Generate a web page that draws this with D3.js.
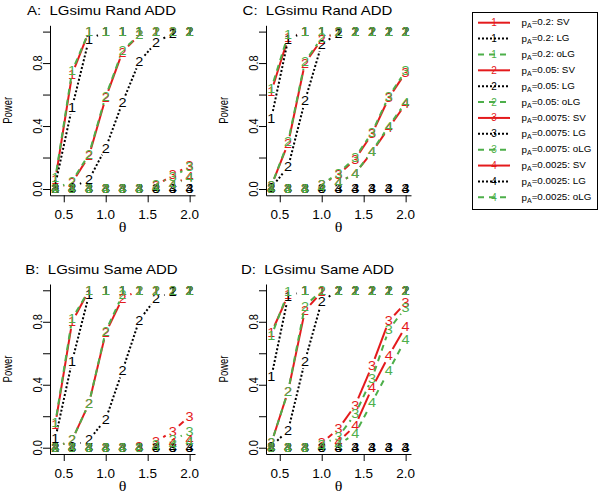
<!DOCTYPE html>
<html>
<head>
<meta charset="utf-8">
<script src="https://cdn.jsdelivr.net/npm/d3@7"></script>
<style>
  body { margin: 0; background: #fff; }
  svg { display: block; }
</style>
</head>
<body>
<div id="chart"></div>
<script>
// theta values on the x axis
const theta = [0.4, 0.6, 0.8, 1.0, 1.2, 1.4, 1.6, 1.8, 2.0];
const pAs = ["0.2", "0.05", "0.0075", "0.0025"];
const methods = ["SV", "LG", "oLG"];
const xTicks = [0.5, 1.0, 1.5, 2.0];
const yTicks = [0, 0.2, 0.4, 0.6, 0.8, 1.0];
const yLabels = [0, 0.4, 0.8];

// power, one row per pA (0.2, 0.05, 0.0075, 0.0025)
const randA_SV = [
  [0.06, 0.73, 1.00, 1, 1, 1, 1, 1, 1],
  [0.00, 0.04, 0.21, 0.58, 0.87, 0.98, 1, 1, 1],
  [0, 0, 0, 0, 0, 0, 0.02, 0.09, 0.15],
  [0, 0, 0, 0, 0, 0, 0.01, 0.03, 0.08]
];
const randA_LG = [
  [0.03, 0.52, 0.95, 1, 1, 1, 1, 1, 1],
  [0.00, 0.01, 0.06, 0.26, 0.55, 0.81, 0.93, 0.99, 1],
  [0, 0, 0, 0, 0, 0, 0, 0, 0],
  [0, 0, 0, 0, 0, 0, 0, 0, 0]
];
const randA_oLG = [
  [0.07, 0.75, 1.00, 1, 1, 1, 1, 1, 1],
  [0.00, 0.05, 0.22, 0.59, 0.88, 0.98, 1, 1, 1],
  [0, 0, 0, 0, 0, 0, 0.03, 0.08, 0.14],
  [0, 0, 0, 0, 0, 0, 0.01, 0.03, 0.07]
];

const randC_SV = [
  [0.62, 0.96, 1, 1, 1, 1, 1, 1, 1],
  [0.02, 0.29, 0.80, 0.95, 1, 1, 1, 1, 1],
  [0, 0, 0, 0.03, 0.09, 0.19, 0.35, 0.58, 0.74],
  [0, 0, 0, 0.01, 0.04, 0.10, 0.235, 0.39, 0.54]
];
const randC_LG = [
  [0.45, 0.95, 1, 1, 1, 1, 1, 1, 1],
  [0.01, 0.14, 0.56, 0.92, 0.99, 1, 1, 1, 1],
  [0, 0, 0, 0, 0, 0, 0, 0, 0],
  [0, 0, 0, 0, 0, 0, 0, 0, 0]
];
const randC_oLG = [
  [0.64, 0.98, 1, 1, 1, 1, 1, 1, 1],
  [0.02, 0.30, 0.81, 0.96, 1, 1, 1, 1, 1],
  [0, 0, 0, 0.03, 0.10, 0.20, 0.36, 0.59, 0.75],
  [0, 0, 0, 0.01, 0.04, 0.10, 0.24, 0.40, 0.55]
];

const sameB_SV = [
  [0.15, 0.80, 1, 1, 1, 1, 1, 1, 1],
  [0.00, 0.05, 0.28, 0.73, 0.95, 1, 1, 1, 1],
  [0, 0, 0, 0, 0, 0.01, 0.04, 0.105, 0.20],
  [0, 0, 0, 0, 0, 0, 0.01, 0.03, 0.05]
];
const sameB_LG = [
  [0.06, 0.55, 0.97, 1, 1, 1, 1, 1, 1],
  [0.00, 0.01, 0.05, 0.18, 0.49, 0.81, 0.95, 0.99, 1],
  [0, 0, 0, 0, 0, 0, 0, 0, 0],
  [0, 0, 0, 0, 0, 0, 0, 0, 0]
];
const sameB_oLG = [
  [0.16, 0.82, 1, 1, 1, 1, 1, 1, 1],
  [0.00, 0.05, 0.28, 0.74, 0.97, 1, 1, 1, 1],
  [0, 0, 0, 0, 0, 0, 0.02, 0.05, 0.10],
  [0, 0, 0, 0, 0, 0, 0.01, 0.02, 0.04]
];

const sameD_SV = [
  [0.73, 0.97, 1, 1, 1, 1, 1, 1, 1],
  [0.03, 0.36, 0.87, 0.99, 1, 1, 1, 1, 1],
  [0, 0, 0, 0.03, 0.12, 0.27, 0.52, 0.805, 0.92],
  [0, 0, 0, 0.01, 0.04, 0.14, 0.38, 0.585, 0.77]
];
const sameD_LG = [
  [0.45, 0.96, 1, 1, 1, 1, 1, 1, 1],
  [0.01, 0.11, 0.55, 0.93, 1, 1, 1, 1, 1],
  [0, 0, 0, 0, 0, 0, 0, 0, 0],
  [0, 0, 0, 0, 0, 0, 0, 0, 0]
];
const sameD_oLG = [
  [0.71, 0.99, 1, 1, 1, 1, 1, 1, 1],
  [0.03, 0.36, 0.90, 1, 1, 1, 1, 1, 1],
  [0, 0, 0, 0.02, 0.07, 0.215, 0.44, 0.75, 0.89],
  [0, 0, 0, 0.01, 0.02, 0.09, 0.29, 0.49, 0.69]
];

const panels = [
  { title: "A:\u00a0\u00a0LGsimu Rand ADD", left: 50, top: 25.3, data: [randA_SV, randA_LG, randA_oLG] },
  { title: "C:\u00a0\u00a0LGsimu Rand ADD", left: 266, top: 25.3, data: [randC_SV, randC_LG, randC_oLG] },
  { title: "B:\u00a0\u00a0LGsimu Same ADD", left: 50, top: 284, data: [sameB_SV, sameB_LG, sameB_oLG] },
  { title: "D:\u00a0\u00a0LGsimu Same ADD", left: 266, top: 284, data: [sameD_SV, sameD_LG, sameD_oLG] }
];

const W = 600, H = 495;
const PW = 145, PH = 170;
const SQ = 0.88;         // text looks a little squeezed vertically
const GEO_SQ = 0.8;      // same for the gaps of the broken lines
const GAP = 9;           // gap round each symbol, like R type = "b"
const FONT = "'Liberation Sans', Arial, Helvetica, sans-serif";

const styles = {
  SV:  { color: "#e41a1c", dash: null },
  LG:  { color: "#000000", dash: "2,2" },
  oLG: { color: "#4daf4a", dash: "6,5" }
};

const svg = d3.select("#chart").append("svg")
  .attr("width", W).attr("height", H)
  .style("font-family", FONT);

svg.append("rect").attr("width", W).attr("height", H).attr("fill", "#fff");

function label(g, x, y, s, size, opt) {
  opt = opt || {};
  const sq = opt.sq || SQ;
  const t = g.append("g")
    .attr("transform", "translate(" + x + "," + y + ") scale(1," + sq + ")" + (opt.rotate ? " rotate(" + opt.rotate + ")" : ""))
    .append("text")
    .attr("text-anchor", opt.anchor || "middle")
    .attr("dy", opt.dy || "0.35em")
    .attr("font-size", size)
    .attr("fill", opt.fill || "#000")
    .text(s);
  if (opt.family) t.attr("font-family", opt.family);
  return t;
}

panels.forEach(function(p) {
  const g = svg.append("g");
  const x = d3.scaleLinear().domain([0.336, 2.064]).range([p.left, p.left + PW]);
  const y = d3.scaleLinear().domain([-0.04, 1.04]).range([p.top + PH, p.top]);

  // L-shaped box with axes
  const xAxis = g.append("g")
    .attr("transform", "translate(0," + (p.top + PH) + ")")
    .call(d3.axisBottom(x).tickValues(xTicks).tickSize(7).tickSizeOuter(0).tickFormat(""));
  const yAxis = g.append("g")
    .attr("transform", "translate(" + p.left + ",0)")
    .call(d3.axisLeft(y).tickValues(yTicks).tickSize(7).tickSizeOuter(0).tickFormat(""));
  [xAxis, yAxis].forEach(function(a) {
    a.selectAll("path, line").attr("stroke", "#000").attr("stroke-width", 1);
  });

  xTicks.forEach(function(v) {
    label(g, x(v), p.top + PH + 19.5, d3.format(".1f")(v), 13.5);
  });
  yLabels.forEach(function(v) {
    label(g, p.left - 12.5, y(v), d3.format(".1f")(v), 13.5, { rotate: -90, sq: 0.82 });
  });

  label(g, p.left + PW / 2 - 21, p.top - 15, p.title, 15);
  label(g, p.left - 42, p.top + PH / 2, "Power", 12.5, { rotate: -90, sq: 0.76 });
  label(g, p.left + PW / 2, p.top + 202, "\u03b8", 16, { family: "'Liberation Serif', 'DejaVu Serif', serif" });

  const marks = g.append("g");
  pAs.forEach(function(pa, i) {
    methods.forEach(function(m, k) {
      const vals = p.data[k][i];
      const st = styles[m];
      const pts = theta.map(function(t, j) { return [x(t), y(vals[j])]; });
      for (let j = 1; j < pts.length; j++) {
        const a = pts[j - 1], b = pts[j];
        const dx = b[0] - a[0], dy = (b[1] - a[1]) / GEO_SQ;
        const f = GAP / Math.hypot(dx, dy);
        if (f >= 0.5) continue;
        marks.append("line")
          .attr("x1", a[0] + f * (b[0] - a[0]))
          .attr("y1", a[1] + f * (b[1] - a[1]))
          .attr("x2", b[0] + f * (a[0] - b[0]))
          .attr("y2", b[1] + f * (a[1] - b[1]))
          .attr("stroke", st.color)
          .attr("stroke-width", 2)
          .attr("stroke-dasharray", st.dash);
      }
      pts.forEach(function(q) {
        label(marks, q[0], q[1], String(i + 1), 14.5, { fill: st.color });
      });
    });
  });
});

// legend
const lg = svg.append("g");
lg.append("rect")
  .attr("x", 472.5).attr("y", 12.5).attr("width", 125).attr("height", 197)
  .attr("fill", "#fff").attr("stroke", "#000").attr("stroke-width", 1);

const rowY = d3.scaleLinear().domain([0, 11]).range([22.7, 197.3]);
pAs.forEach(function(pa, i) {
  methods.forEach(function(m, k) {
    const r = i * 3 + k;
    const yy = rowY(r);
    const st = styles[m];
    lg.append("line")
      .attr("x1", 478).attr("x2", 510).attr("y1", yy).attr("y2", yy)
      .attr("stroke", st.color).attr("stroke-width", 2)
      .attr("stroke-dasharray", st.dash);
    label(lg, 494, yy, String(i + 1), 10, { fill: st.color, sq: 1 });
    const t = label(lg, 521.5, yy, "", 9.8, { anchor: "start", sq: 1 });
    t.append("tspan").text("p");
    t.append("tspan").attr("font-size", 7).attr("dy", "0.3em").text("A");
    t.append("tspan").attr("dy", "-0.3em").text("=" + pa + ": " + m);
  });
});
</script>
</body>
</html>
